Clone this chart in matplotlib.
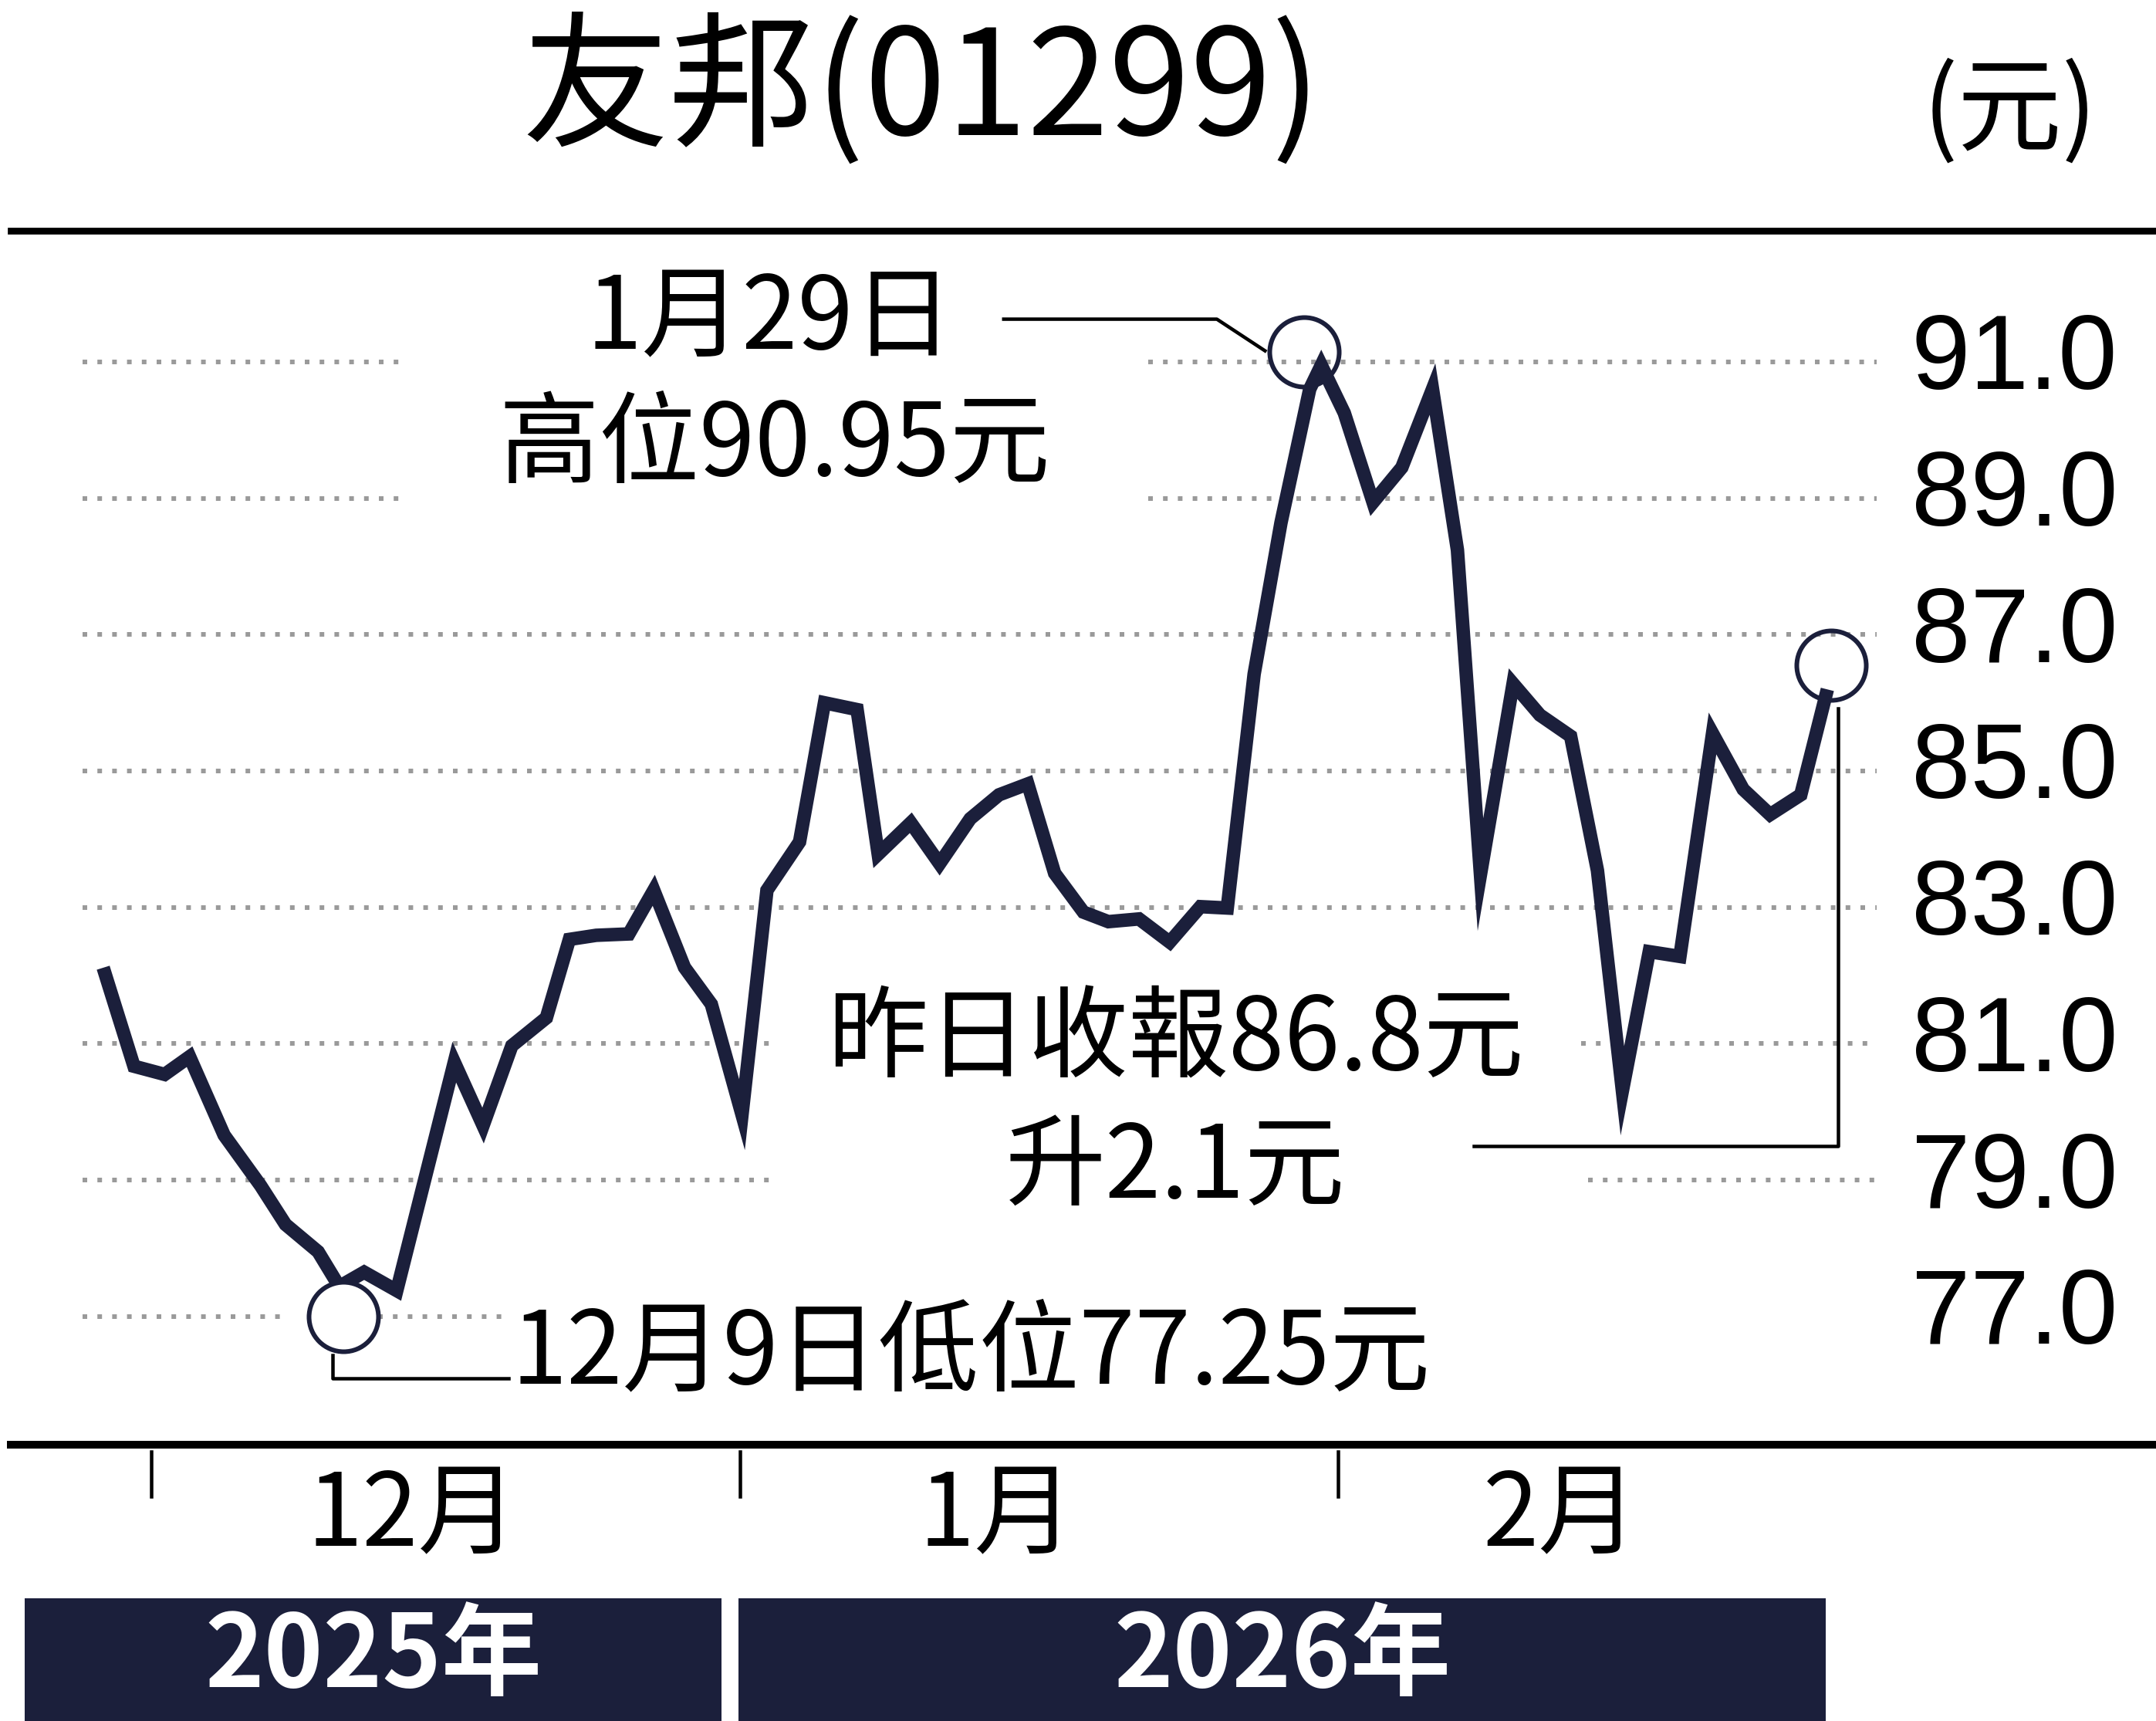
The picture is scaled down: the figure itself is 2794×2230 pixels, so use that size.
import matplotlib
matplotlib.use("Agg")
import matplotlib.pyplot as plt
from matplotlib.patches import Rectangle
from matplotlib.lines import Line2D

plt.rcParams['font.family'] = ['Noto Sans CJK TC', 'DejaVu Sans']

# day offsets from 1 Dec 2025 and closing prices
days = [-2.4, -0.9, 0.7, 2.0, 3.8, 5.7, 7.0, 8.7, 9.8, 11.1, 12.8, 15.8, 17.3, 18.8, 20.6,
        21.8, 23.2, 24.9, 26.2, 27.8, 29.2, 30.8, 32.1, 33.8, 35.1, 36.8, 37.9, 39.6, 41.1,
        42.7, 44.2, 45.7, 47.1, 48.6, 49.9, 51.5, 53.1, 54.7, 56.1, 57.5, 58.9, 60.4, 61.0,
        62.2, 63.7, 65.2, 66.8, 68.1, 69.3, 71.0, 72.4, 74.0, 75.4, 76.7, 78.1, 79.7, 81.4,
        83.0, 84.4, 86.0, 87.3]
prices = [82.02, 80.67, 80.55, 80.81, 79.66, 78.92, 78.35, 77.95, 77.44, 77.65, 77.38,
          80.73, 79.80, 80.97, 81.38, 82.53, 82.59, 82.61, 83.25, 82.12, 81.58, 79.96,
          83.25, 83.96, 86.00, 85.90, 83.78, 84.24, 83.64, 84.30, 84.65, 84.81, 83.50,
          82.93, 82.79, 82.83, 82.49, 83.01, 82.99, 86.42, 88.64, 90.60, 90.95, 90.25,
          88.94, 89.45, 90.60, 88.24, 83.48, 86.28, 85.82, 85.51, 83.54, 80.31, 82.35,
          82.28, 85.55, 84.73, 84.36, 84.65, 86.10]
yticks = [91, 89, 87, 85, 83, 81, 79, 77]
months = ["12月", "1月", "2月"]
years = ["2025年", "2026年"]

NAVY = "#1b1f3b"
W, H = 1568, 1251
def P(x, y):
    return (x / W, 1 - y / H)

fig = plt.figure(figsize=(2794/180, 2230/180), dpi=180)
ax = fig.add_axes([0, (H - 1040) / H, 1, 865 / H])
ax.set_xlim(-7.885, 104.52)
ax.set_ylim(75.325, 92.775)
ax.axis('off')

def fx(px):
    return px / W

grid_segments = {91: [(60, 290), (835, 1365)], 89: [(60, 290), (835, 1365)],
                 87: [(60, 1365)], 85: [(60, 1365)], 83: [(60, 1365)],
                 81: [(60, 560), (1150, 1365)], 79: [(60, 560), (1155, 1365)],
                 77: [(60, 205), (275, 365)]}
for v in yticks:
    for a, b in grid_segments[v]:
        ax.axhline(v, fx(a), fx(b), color="#9a9a9a", lw=2.4, ls=(0, (1, 2.2)), zorder=1)
    fig.text(*P(1465, 263 + (91 - v) * 49.57), f"{v:.1f}", fontsize=55, ha='center',
             va='center', family=['Liberation Sans Narrow', 'Liberation Sans'], color='black')

ax.plot(days, prices, color=NAVY, lw=7, solid_joinstyle='miter', zorder=3)
ax.plot([10.0], [77.0], 'o', ms=36, mfc='white', mec=NAVY, mew=2.4, zorder=4)
ax.plot([60.1], [91.15], 'o', ms=36, mfc='none', mec=NAVY, mew=2.4, zorder=4)
ax.plot([87.6], [86.55], 'o', ms=36, mfc='none', mec=NAVY, mew=2.4, zorder=4)

def fline(xs, ys, lw=1.8):
    fig.add_artist(Line2D([x / W for x in xs], [1 - y / H for y in ys], color='black', lw=lw))
fline([730, 885, 920], [232, 232, 255])
fline([1072, 1337, 1337], [833, 833, 515])
fline([242, 242, 370], [985, 1002, 1002])

fs = 52
kw = dict(fontsize=fs, va='center', fontweight='medium')
fig.text(*P(560, 233), "1月29日", ha='center', **kw)
fig.text(*P(563, 325), "高位90.95元", ha='center', **kw)
fig.text(*P(855, 757), "昨日收報86.8元", ha='center', **kw)
fig.text(*P(855, 850), "升2.1元", ha='center', **kw)
fig.text(*P(372, 985), "12月9日低位77.25元", ha='left', **kw)

fig.text(*P(670, 68), "友邦(01299)", fontsize=76, ha='center', va='center', fontweight='medium')
fig.text(*P(1462, 82), "(元)", fontsize=54, ha='center', va='center', fontweight='medium')

fline([8, 1568], [168, 168], lw=3.5)
fline([8, 1568], [1050, 1050], lw=4)
for x in (110, 538, 973):
    fline([x, x], [1055, 1088], lw=1.8)
for x, m in zip((300, 725, 1135), months):
    fig.text(*P(x, 1103), m, fontsize=52, ha='center', va='center', fontweight='medium')

for (x0, x1), yr in zip(((18, 525), (537, 1328)), years):
    fig.add_artist(Rectangle(P(x0, 1251), (x1 - x0) / W, 89 / H, transform=fig.transFigure,
                             color=NAVY, lw=0))
    fig.text(*P((x0 + x1) / 2, 1205), yr, fontsize=52, ha='center', va='center',
             color='white', fontweight='bold')

fig.savefig("out.png", dpi=180, facecolor='white')
